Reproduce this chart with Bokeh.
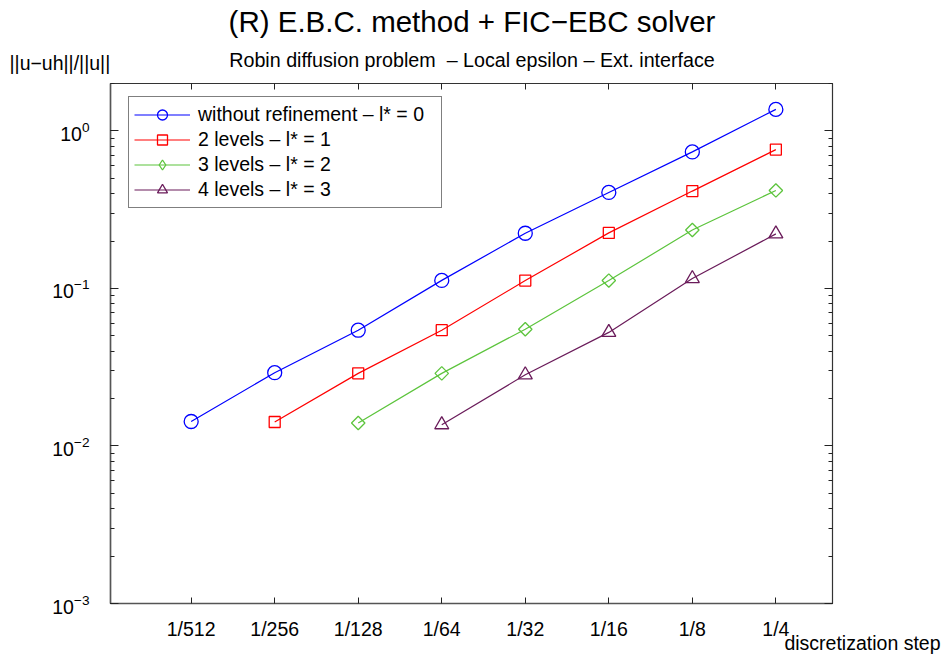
from bokeh.plotting import figure
from bokeh.models import (LogAxis, FixedTicker, LogTicker, Label, Legend, LegendItem,
                          CustomJSTickFormatter, Range1d)
from bokeh.embed import file_html
from bokeh.resources import INLINE
import numpy as np

# ---- data -------------------------------------------------------------
steps = [1/512, 1/256, 1/128, 1/64, 1/32, 1/16, 1/8, 1/4]
step_labels = ["1/512", "1/256", "1/128", "1/64", "1/32", "1/16", "1/8", "1/4"]

err_no_ref = [0.0143, 0.0292, 0.0543, 0.1125, 0.224, 0.407, 0.736, 1.37]        # 1/512 .. 1/4
err_2lev = [0.0142, 0.0289, 0.0543, 0.1122, 0.2253, 0.415, 0.761]                # 1/256 .. 1/4
err_3lev = [0.0140, 0.0289, 0.0551, 0.1122, 0.235, 0.419]                        # 1/128 .. 1/4
err_4lev = [0.01365, 0.0283, 0.0526, 0.1155, 0.222]                              # 1/64 .. 1/4

series_names = ["without refinement \u2013 l* = 0", "2 levels \u2013 l* = 1",
                "3 levels \u2013 l* = 2", "4 levels \u2013 l* = 3"]
series_values = [err_no_ref, err_2lev, err_3lev, err_4lev]
series_colors = ["#0000ff", "#ff0000", "#5cc43c", "#6a1b5a"]
series_markers = ["circle", "square", "diamond", "triangle"]

title_text = "(R) E.B.C. method + FIC\u2212EBC solver"
subtitle_text = "Robin diffusion problem\u00a0 \u2013 Local epsilon \u2013 Ext. interface"
ylabel_text = "||u\u2212uh||/||u||"
xlabel_text = "discretization step"

FONT = "Liberation Sans"
FS = "19.5px"

p = figure(width=945, height=659, x_axis_type="log", y_axis_type="log",
           x_range=Range1d(0.001, 0.4), y_range=Range1d(0.001, 2.0),
           output_backend="svg", toolbar_location=None,
           min_border_left=110, min_border_right=113, min_border_top=83, min_border_bottom=56)
p.xgrid.visible = False
p.ygrid.visible = False
p.outline_line_color = "#333333"
p.outline_line_width = 1.2
p.background_fill_color = "white"
p.border_fill_color = "white"

# ---- axes -------------------------------------------------------------
overrides = {v: s for v, s in zip(steps, step_labels)}

xa = p.xaxis[0]
xa.ticker = FixedTicker(ticks=steps, minor_ticks=[])
xa.major_label_overrides = overrides
xa.major_tick_in = 6
xa.major_tick_out = 0
xa.minor_tick_in = 0
xa.minor_tick_out = 0
xa.major_label_standoff = 14
xa.axis_line_color = "#555555"
xa.axis_line_width = 1.5
xa.major_tick_line_color = "#222222"
xa.major_label_text_font = FONT
xa.major_label_text_font_size = FS
xa.major_label_text_color = "black"

ya = p.yaxis[0]
ya.ticker = LogTicker(num_minor_ticks=10)
ya.major_tick_in = 8
ya.major_tick_out = 0
ya.minor_tick_in = 4
ya.minor_tick_out = 0
ya.major_label_standoff = 21
ya.axis_line_color = "#555555"
ya.axis_line_width = 1.5
ya.major_tick_line_color = "#222222"
ya.minor_tick_line_color = "#222222"
ya.major_label_text_font = FONT
ya.major_label_text_font_size = FS
ya.major_label_text_color = "black"

blank = CustomJSTickFormatter(code="return ''")
top = LogAxis(ticker=FixedTicker(ticks=steps, minor_ticks=[]), formatter=blank,
              major_tick_in=6, major_tick_out=0, minor_tick_in=0, minor_tick_out=0,
              major_label_standoff=0,
              axis_line_color="#333333", major_tick_line_color="#222222",
              major_label_text_font_size="1px")
p.add_layout(top, "above")
right = LogAxis(ticker=LogTicker(num_minor_ticks=10), formatter=blank,
                major_tick_in=8, major_tick_out=0, minor_tick_in=4, minor_tick_out=0,
                major_label_standoff=0,
                axis_line_color="#333333", major_tick_line_color="#222222",
                minor_tick_line_color="#222222", major_label_text_font_size="1px")
p.add_layout(right, "right")

# ---- series -----------------------------------------------------------
items = []
n = len(steps)
for name, vals, col, mk in zip(series_names, series_values, series_colors, series_markers):
    xs = steps[n - len(vals):]
    r_line = p.line(xs, vals, line_color=col, line_width=1.2)
    if mk == "diamond":
        p.scatter(xs, vals, marker="square", angle=np.pi / 4, size=9.5,
                  line_color=col, fill_color=None, line_width=1.3)
        # legend swatch only (zero-size on the plot)
        r_leg = p.scatter(xs, vals, marker="diamond", size=0, line_color=col,
                          fill_color=None, line_width=1.3)
    elif mk == "square":
        r_leg = p.scatter(xs, vals, marker="square", size=11,
                          line_color=col, fill_color=None, line_width=1.3)
    elif mk == "triangle":
        r_leg = p.scatter(xs, vals, marker="triangle", size=14,
                          line_color=col, fill_color=None, line_width=1.3)
    else:
        r_leg = p.scatter(xs, vals, marker="circle", size=14,
                          line_color=col, fill_color=None, line_width=1.3)
    items.append(LegendItem(label=name, renderers=[r_line, r_leg]))

legend = Legend(items=items, location=(18, 395), padding=5, spacing=0,
                label_height=25, glyph_height=25, glyph_width=56, label_standoff=8,
                label_width=238, margin=0,
                label_text_font=FONT, label_text_font_size=FS, label_text_color="black",
                border_line_color="black", border_line_width=1,
                background_fill_color="white", background_fill_alpha=1.0)
p.add_layout(legend, "center")

# ---- texts (in side panels so they are not clipped by the frame) ------
# x label lives in the first "above" row, drawn far below it at the bottom right
p.add_layout(Label(x=830, y=-559, x_units="screen", y_units="screen",
                   text=xlabel_text, text_font=FONT, text_font_size=FS, text_color="black",
                   text_align="right", text_baseline="alphabetic"), "above")
p.add_layout(Label(x=361.5, y=2, x_units="screen", y_units="screen",
                   text=subtitle_text, text_font=FONT, text_font_size="19.7px",
                   text_color="black", text_align="center", text_baseline="alphabetic"), "above")
p.add_layout(Label(x=361.5, y=18, x_units="screen", y_units="screen",
                   text=title_text, text_font=FONT, text_font_size="29.5px",
                   text_color="black", text_align="center", text_baseline="alphabetic"), "above")
# y label lives in the right panel, drawn at the top left
p.add_layout(Label(x=-823, y=541, x_units="screen", y_units="screen",
                   text=ylabel_text, text_font=FONT, text_font_size=FS, text_color="black",
                   text_align="left", text_baseline="alphabetic"), "right")

open("out.html", "w").write(file_html(p, INLINE))
